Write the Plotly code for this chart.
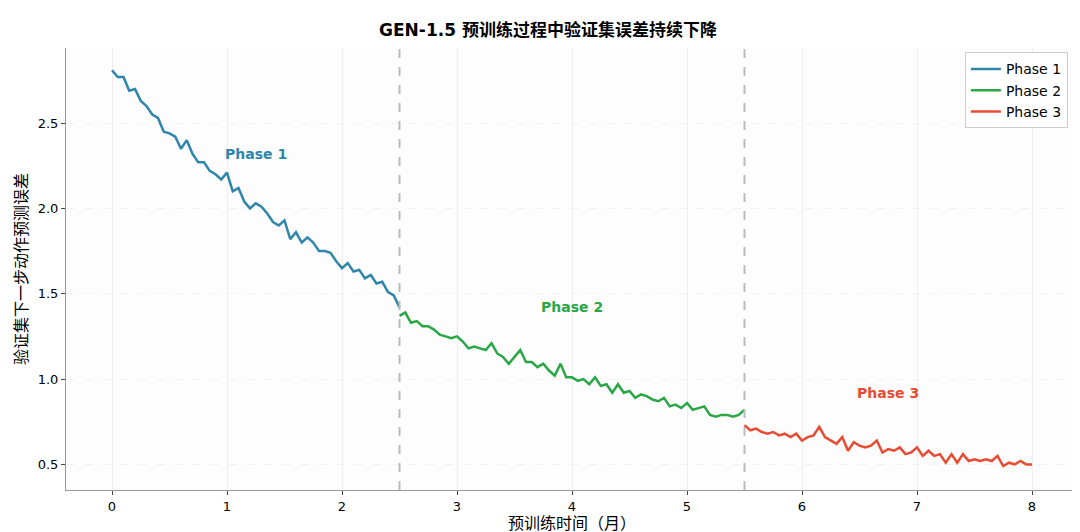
import numpy as np
import plotly.graph_objects as go

# validation error, step 0.05 month
phase1_y = [2.81, 2.77, 2.77, 2.69, 2.70, 2.63, 2.60, 2.55, 2.53, 2.45, 2.44, 2.42, 2.35, 2.40, 2.32,
            2.27, 2.27, 2.22, 2.20, 2.17, 2.21, 2.10, 2.12, 2.04, 2.00, 2.03, 2.01, 1.97, 1.92, 1.90,
            1.93, 1.82, 1.86, 1.80, 1.83, 1.80, 1.75, 1.75, 1.74, 1.69, 1.65, 1.68, 1.63, 1.64, 1.59,
            1.61, 1.56, 1.57, 1.51, 1.49, 1.42]
phase2_y = [1.37, 1.39, 1.33, 1.34, 1.31, 1.31, 1.29, 1.26, 1.25, 1.24, 1.25, 1.22, 1.18, 1.19, 1.18,
            1.17, 1.21, 1.15, 1.13, 1.09, 1.13, 1.17, 1.10, 1.10, 1.07, 1.09, 1.05, 1.02, 1.09, 1.01,
            1.01, 0.99, 1.00, 0.97, 1.01, 0.96, 0.97, 0.92, 0.97, 0.92, 0.93, 0.89, 0.91, 0.90, 0.88,
            0.87, 0.89, 0.84, 0.85, 0.83, 0.86, 0.82, 0.83, 0.84, 0.79, 0.78, 0.79, 0.79, 0.78, 0.79,
            0.82]
phase3_y = [0.73, 0.70, 0.71, 0.69, 0.68, 0.69, 0.67, 0.68, 0.66, 0.68, 0.64, 0.66, 0.67, 0.72, 0.66,
            0.64, 0.62, 0.66, 0.58, 0.63, 0.61, 0.60, 0.61, 0.64, 0.57, 0.59, 0.58, 0.60, 0.56, 0.57,
            0.60, 0.55, 0.58, 0.55, 0.56, 0.51, 0.56, 0.51, 0.56, 0.52, 0.53, 0.52, 0.53, 0.52, 0.55,
            0.49, 0.51, 0.50, 0.52, 0.50, 0.50]
phase_starts = [0.0, 2.5, 5.5]
boundaries = [2.5, 5.5]
names = ["Phase 1", "Phase 2", "Phase 3"]
colors = ["#2e86ab", "#28a745", "#e84a32"]
label_x = [1.25, 4.0, 6.75]
label_y = [2.32, 1.42, 0.92]

fig = go.Figure()
for name, ys, x0, c in zip(names, [phase1_y, phase2_y, phase3_y], phase_starts, colors):
    xs = x0 + 0.05 * np.arange(len(ys))
    fig.add_trace(go.Scatter(x=xs, y=ys, mode="lines", name=name, line=dict(color=c, width=2.5)))

for b in boundaries:
    fig.add_vline(x=b, line=dict(color="#bbbbbb", width=2, dash="dash"))

for name, lx, ly, c in zip(names, label_x, label_y, colors):
    fig.add_annotation(x=lx, y=ly, text="<b>%s</b>" % name, showarrow=False,
                       font=dict(size=14, color=c))

fig.update_layout(
    width=1080, height=532,
    title=dict(text="<b>GEN-1.5 预训练过程中验证集误差持续下降</b>", x=0.5, y=0.97,
               font=dict(size=17, color="black")),
    font=dict(family="DejaVu Sans, Noto Sans CJK SC", size=13, color="black"),
    plot_bgcolor="#fdfdfd", paper_bgcolor="white",
    margin=dict(l=58, r=10, t=40, b=50),
    legend=dict(x=0.99, y=0.99, xanchor="right", yanchor="top", bordercolor="#cccccc",
                borderwidth=1, bgcolor="white", font=dict(size=14)),
)
fig.update_xaxes(title_text="预训练时间（月）", range=[-0.4, 8.4], dtick=1,
                 showgrid=True, gridcolor="#eeeeee", showline=True, linecolor="#999999",
                 ticks="outside", ticklen=4, zeroline=False, title_standoff=2)
fig.update_yaxes(title_text="验证集下一步动作预测误差", range=[0.35, 2.94],
                 tickvals=[0.5, 1.0, 1.5, 2.0, 2.5], ticktext=["0.5", "1.0", "1.5", "2.0", "2.5"],
                 showgrid=True, gridcolor="#f2f2f2", griddash="dash", showline=True,
                 linecolor="#999999", ticks="outside", ticklen=4, zeroline=False, title_standoff=6)

fig.write_html("out.html")
